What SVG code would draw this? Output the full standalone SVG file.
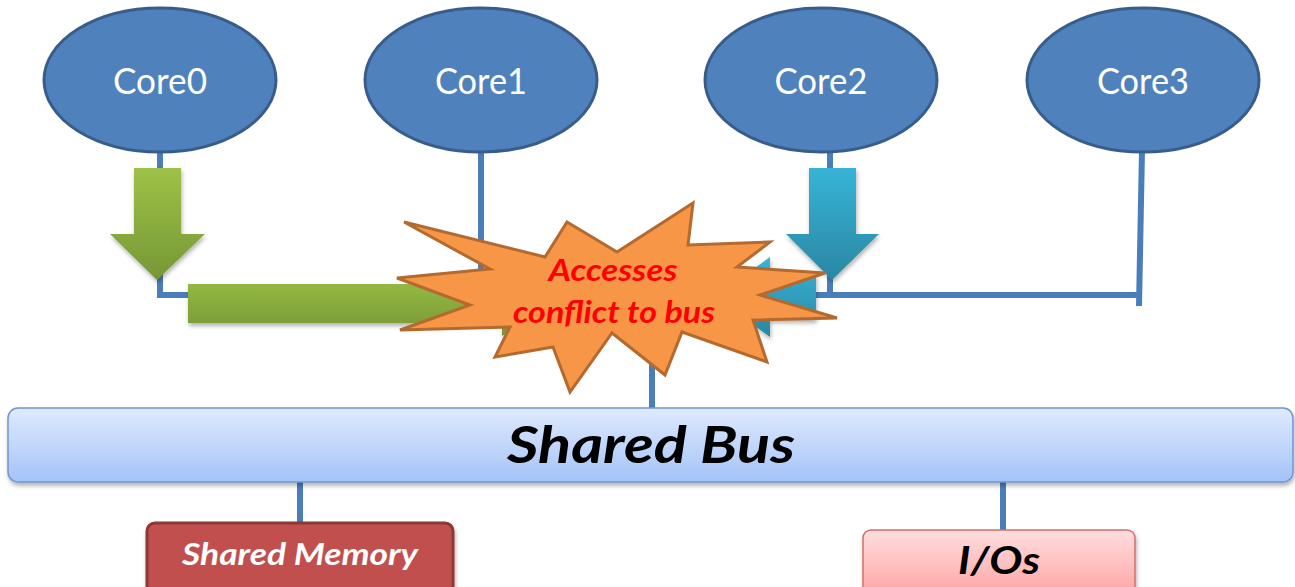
<svg xmlns="http://www.w3.org/2000/svg" width="1295" height="587" viewBox="0 0 1295 587">
  <defs>
    <linearGradient id="gGreen" x1="0" y1="0" x2="0" y2="1">
      <stop offset="0" stop-color="#9dc247"/>
      <stop offset="1" stop-color="#769735"/>
    </linearGradient>
    <linearGradient id="gTeal" x1="0" y1="0" x2="0" y2="1">
      <stop offset="0" stop-color="#37b4d6"/>
      <stop offset="1" stop-color="#2a87a3"/>
    </linearGradient>
    <linearGradient id="gBus" x1="0" y1="0" x2="0" y2="1">
      <stop offset="0" stop-color="#dfeafd"/>
      <stop offset="1" stop-color="#a4c3f8"/>
    </linearGradient>
    <linearGradient id="gIo" x1="0" y1="0" x2="0" y2="1">
      <stop offset="0" stop-color="#ffdede"/>
      <stop offset="1" stop-color="#ffa4a4"/>
    </linearGradient>
    <filter id="shadow" x="-10%" y="-20%" width="120%" height="150%">
      <feDropShadow dx="1" dy="3" stdDeviation="2" flood-color="#000" flood-opacity="0.3"/>
    </filter>
    <style>
      .wire { fill: none; stroke: #4a7ebb; stroke-width: 6; }
      .core { fill: #4f81bd; stroke: #385d8a; stroke-width: 3; }
      .coreText { font-family: Lato, "Open Sans", sans-serif; font-size: 37px; fill: #ffffff; text-anchor: middle; }
      .bi { font-family: Lato, "Liberation Sans", sans-serif; font-weight: bold; font-style: italic; text-anchor: middle; }
    </style>
  </defs>

  <!-- wiring between cores, the bus and its devices -->
  <g id="connectors">
    <path class="wire" d="M160,150 V295 H1140"/>
    <path class="wire" d="M481,150 V295"/>
    <path class="wire" d="M830,150 V295"/>
    <path class="wire" d="M1142,150 L1139,306"/>
    <path class="wire" d="M652,295 V410"/>
    <path class="wire" d="M300,480 V524"/>
    <path class="wire" d="M1003,480 V531"/>
  </g>

  <g id="core0">
    <ellipse class="core" cx="160" cy="80" rx="116" ry="72"/>
    <text class="coreText" x="160" y="94" textLength="94" lengthAdjust="spacingAndGlyphs">Core0</text>
  </g>
  <g id="core1">
    <ellipse class="core" cx="481" cy="80" rx="116" ry="72"/>
    <text class="coreText" x="481" y="94" textLength="92" lengthAdjust="spacingAndGlyphs">Core1</text>
  </g>
  <g id="core2">
    <ellipse class="core" cx="821" cy="80" rx="116" ry="72"/>
    <text class="coreText" x="821" y="94" textLength="93" lengthAdjust="spacingAndGlyphs">Core2</text>
  </g>
  <g id="core3">
    <ellipse class="core" cx="1143" cy="80" rx="116" ry="72"/>
    <text class="coreText" x="1143" y="94" textLength="92" lengthAdjust="spacingAndGlyphs">Core3</text>
  </g>

  <!-- access requests travelling towards the bus -->
  <g id="access-core0" filter="url(#shadow)">
    <path fill="url(#gGreen)" d="M134,168 H181 V234 H205 L157,280 L110,234 H134 Z"/>
    <path fill="url(#gGreen)" d="M188,284 H502 V268 L560,303 L502,336 V323 H188 Z"/>
  </g>
  <g id="access-core2" filter="url(#shadow)">
    <path fill="url(#gTeal)" d="M809,168 H856 V234 H879 L832,280 L786,234 H809 Z"/>
    <path fill="url(#gTeal)" d="M816,274 H770 V257 L715,297 L770,337 V320 H816 Z"/>
  </g>

  <g id="conflict">
    <polygon fill="#f79646" stroke="#b46a2f" stroke-width="3" stroke-linejoin="miter"
      points="404,222 490,269 397,278 470,305 400,330 510,327 495,357 553,347 570,392 612,333 665,375 682,332 767,362 753,320 837,318 760,295 825,273 737,267 770,242 688,245 693,203 617,252 567,222 545,257"/>
    <text class="bi" x="613" y="281" font-size="30" fill="#ff0000" textLength="129" lengthAdjust="spacingAndGlyphs">Accesses</text>
    <text class="bi" x="614" y="323" font-size="30" fill="#ff0000" textLength="202" lengthAdjust="spacingAndGlyphs">conflict to bus</text>
  </g>

  <g id="shared-bus">
    <rect x="8" y="408" width="1285" height="74" rx="10" fill="url(#gBus)" stroke="#7096cf" stroke-width="1.5" filter="url(#shadow)"/>
    <text class="bi" x="651" y="463" font-size="51" fill="#000000" textLength="288" lengthAdjust="spacingAndGlyphs">Shared Bus</text>
  </g>

  <g id="shared-memory">
    <rect x="147" y="523" width="306" height="72" rx="8" fill="#c0504d" stroke="#8c3836" stroke-width="3" filter="url(#shadow)"/>
    <text class="bi" x="300" y="565" font-size="31" fill="#ffffff" textLength="236" lengthAdjust="spacingAndGlyphs">Shared Memory</text>
  </g>

  <g id="io">
    <rect x="863" y="530" width="272" height="65" rx="8" fill="url(#gIo)" stroke="#d46f6d" stroke-width="1.5" filter="url(#shadow)"/>
    <text class="bi" x="999" y="574" font-size="39" fill="#000000" textLength="82" lengthAdjust="spacingAndGlyphs">I/Os</text>
  </g>
</svg>
